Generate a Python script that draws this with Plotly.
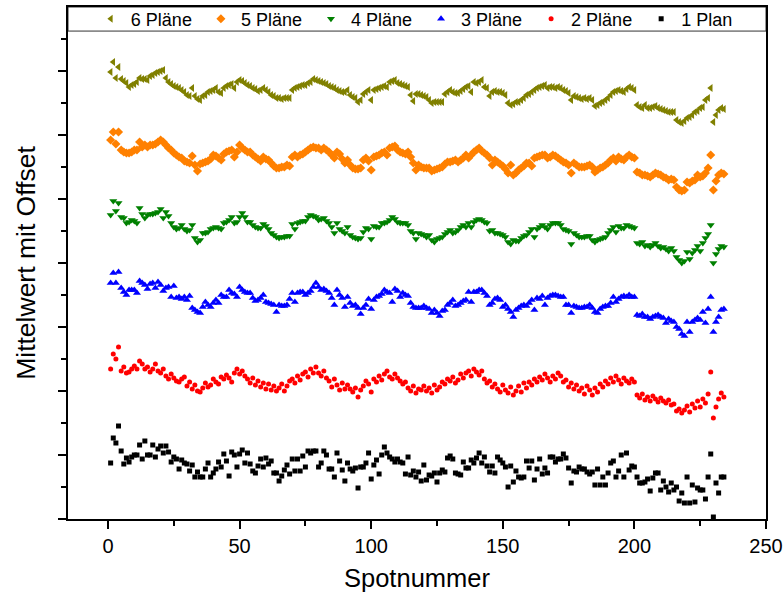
import plotly.graph_objects as go

spot = list(range(1, 235))

plane6 = [
447, 457, 441, 452, 440, 438, 436, 432, 434, 435,
437, 441, 440, 440, 439, 443, 444, 446, 447, 448,
449, 441, 437, 435, 433, 432, 431, 429, 427, 424,
423, 431, 423, 420, 419, 423, 424, 427, 428, 429,
431, 427, 426, 431, 433, 434, 435, 431, 437, 439,
438, 436, 434, 433, 431, 430, 428, 429, 431, 429,
427, 424, 423, 421, 421, 420, 421, 421, 421, 429,
431, 432, 433, 434, 434, 436, 437, 440, 439, 438,
437, 436, 435, 433, 432, 431, 429, 428, 427, 427,
429, 424, 422, 421, 417, 419, 425, 427, 429, 419,
429, 430, 431, 432, 433, 432, 437, 438, 439, 436,
435, 434, 433, 432, 424, 418, 425, 425, 424, 423,
422, 419, 416, 417, 417, 417, 417, 425, 427, 429,
427, 426, 426, 428, 430, 432, 433, 427, 437, 436,
437, 439, 432, 431, 423, 427, 428, 427, 427, 426,
424, 416, 414, 415, 417, 417, 419, 421, 424, 425,
427, 429, 431, 432, 433, 434, 431, 432, 432, 431,
432, 431, 429, 428, 426, 419, 423, 422, 421, 420,
421, 420, 421, 419, 413, 414, 416, 417, 419, 421,
424, 427, 428, 429, 428, 427, 430, 432, 431, 429,
414, 412, 411, 414, 411, 411, 412, 413, 411, 410,
409, 408, 407, 407, 407, 399, 397, 396, 398, 401,
402, 404, 407, 408, 411, 412, 419, 421, 431, 397,
404, 409, 411, 410]

plane5 = [
379, 387, 375, 387, 369, 367, 366, 366, 367, 369,
369, 377, 372, 374, 372, 374, 374, 375, 377, 379,
377, 374, 371, 369, 366, 364, 362, 361, 358, 357,
356, 363, 354, 348, 355, 356, 357, 358, 360, 364,
363, 361, 359, 365, 367, 368, 369, 362, 367, 374,
371, 369, 367, 367, 364, 362, 360, 358, 362, 360,
359, 356, 353, 351, 351, 352, 352, 354, 353, 362,
364, 362, 364, 365, 367, 369, 371, 372, 371, 371,
369, 371, 369, 367, 364, 361, 367, 365, 360, 356,
359, 354, 351, 350, 350, 351, 359, 361, 358, 349,
362, 363, 364, 366, 367, 364, 371, 372, 373, 369,
367, 366, 365, 367, 362, 356, 349, 354, 352, 351,
351, 351, 348, 349, 350, 351, 352, 355, 357, 357,
358, 359, 357, 359, 361, 364, 361, 364, 367, 369,
371, 368, 366, 364, 361, 354, 359, 357, 355, 353,
350, 346, 354, 344, 346, 349, 351, 353, 356, 356,
353, 361, 362, 363, 364, 364, 361, 362, 364, 363,
361, 359, 357, 356, 354, 346, 356, 354, 352, 352,
352, 353, 354, 352, 347, 349, 351, 352, 354, 356,
359, 361, 358, 362, 360, 359, 362, 364, 362, 361,
347, 346, 344, 344, 343, 342, 344, 346, 345, 344,
342, 341, 339, 340, 339, 332, 329, 328, 329, 337,
336, 338, 339, 344, 342, 343, 346, 351, 364, 329,
338, 344, 346, 345]

plane4 = [
304, 318, 308, 316, 302, 301, 296, 297, 299, 298,
296, 311, 305, 301, 304, 305, 305, 306, 307, 310,
301, 307, 303, 296, 292, 290, 291, 294, 290, 288,
289, 294, 281, 277, 279, 286, 286, 287, 290, 291,
292, 291, 290, 296, 297, 299, 302, 296, 297, 302,
306, 302, 297, 297, 294, 292, 291, 291, 295, 293,
290, 286, 284, 282, 281, 282, 282, 283, 283, 295,
290, 296, 297, 298, 298, 302, 304, 303, 302, 299,
300, 301, 298, 296, 292, 286, 296, 290, 288, 286,
292, 284, 282, 281, 280, 281, 287, 291, 290, 280,
293, 292, 292, 296, 296, 297, 299, 302, 300, 297,
296, 296, 296, 294, 288, 286, 280, 286, 285, 284,
282, 284, 279, 277, 280, 281, 282, 285, 287, 289,
286, 287, 289, 292, 294, 292, 296, 292, 297, 299,
300, 299, 297, 296, 288, 289, 286, 286, 285, 284,
282, 277, 275, 279, 278, 278, 281, 283, 284, 287,
290, 282, 290, 292, 294, 292, 290, 294, 296, 296,
296, 294, 290, 289, 288, 275, 286, 284, 282, 282,
282, 283, 283, 279, 277, 279, 280, 281, 282, 286,
289, 292, 287, 293, 291, 291, 294, 293, 292, 291,
276, 275, 277, 273, 274, 272, 274, 276, 273, 271,
272, 270, 268, 271, 268, 262, 259, 256, 258, 267,
260, 266, 269, 273, 268, 276, 281, 285, 294, 256,
265, 270, 273, 272]

plane3 = [
236, 246, 236, 247, 231, 227, 224, 229, 229, 229,
226, 238, 236, 234, 230, 235, 236, 231, 237, 234,
228, 231, 232, 222, 233, 221, 222, 220, 222, 219,
223, 211, 209, 207, 206, 212, 217, 214, 212, 216,
219, 216, 224, 222, 222, 229, 226, 225, 222, 232,
229, 227, 226, 226, 221, 218, 219, 221, 224, 217,
216, 215, 214, 207, 214, 213, 213, 214, 220, 226,
217, 226, 227, 227, 224, 226, 228, 232, 236, 232,
229, 230, 228, 226, 221, 214, 229, 224, 221, 212,
222, 216, 213, 214, 211, 205, 211, 214, 220, 210,
219, 222, 223, 225, 229, 227, 226, 217, 230, 228,
222, 226, 224, 223, 216, 212, 211, 211, 211, 213,
211, 210, 206, 209, 206, 203, 208, 209, 214, 216,
219, 213, 214, 216, 218, 219, 227, 217, 227, 227,
229, 229, 226, 223, 214, 216, 220, 221, 219, 212,
214, 210, 207, 202, 209, 211, 213, 214, 213, 216,
219, 209, 221, 220, 223, 214, 221, 223, 224, 224,
223, 222, 222, 214, 214, 206, 213, 212, 211, 211,
212, 212, 214, 211, 207, 206, 210, 212, 213, 213,
216, 222, 217, 220, 222, 223, 222, 224, 222, 222,
204, 203, 205, 202, 202, 200, 202, 203, 204, 202,
201, 196, 200, 198, 197, 192, 190, 185, 183, 197,
187, 197, 199, 201, 199, 207, 196, 210, 222, 187,
197, 202, 209, 210]

plane2 = [
150, 165, 160, 172, 148, 152, 146, 147, 150, 153,
150, 158, 155, 150, 152, 147, 150, 155, 148, 146,
150, 143, 140, 145, 141, 138, 137, 140, 142, 133,
137, 130, 134, 128, 127, 131, 136, 132, 134, 140,
137, 135, 142, 140, 144, 141, 137, 146, 150, 145,
148, 143, 140, 136, 141, 134, 138, 132, 136, 130,
135, 129, 133, 128, 131, 135, 128, 133, 138, 140,
136, 143, 139, 145, 147, 142, 150, 146, 152, 146,
143, 148, 141, 138, 132, 140, 134, 129, 136, 130,
134, 130, 127, 131, 122, 129, 133, 138, 135, 127,
140, 137, 143, 139, 145, 148, 142, 140, 145, 141,
138, 135, 137, 131, 128, 133, 126, 130, 129, 133,
128, 131, 126, 134, 129, 132, 137, 135, 140, 138,
142, 136, 139, 145, 141, 146, 148, 143, 150, 147,
144, 148, 140, 136, 138, 132, 135, 130, 127, 134,
129, 126, 132, 124, 128, 133, 127, 136, 131, 137,
134, 140, 137, 142, 139, 145, 141, 137, 143, 140,
146, 143, 137, 139, 132, 136, 130, 134, 128, 131,
125, 133, 129, 124, 131, 127, 135, 132, 138, 135,
141, 137, 143, 139, 135, 141, 138, 136, 140, 137,
124, 121, 125, 119, 122, 118, 123, 120, 117, 121,
118, 116, 119, 114, 115, 108, 110, 106, 109, 113,
107, 115, 111, 118, 112, 120, 116, 125, 147, 101,
112, 120, 126, 122]

plane1 = [
56, 81, 76, 93, 68, 55, 61, 57, 62, 64,
64, 74, 60, 78, 64, 64, 74, 62, 70, 73,
66, 73, 67, 57, 62, 60, 50, 59, 56, 55,
48, 54, 42, 47, 42, 42, 50, 56, 42, 46,
50, 57, 52, 65, 58, 43, 67, 64, 52, 65,
69, 56, 66, 55, 48, 46, 53, 60, 52, 61,
55, 58, 46, 46, 38, 43, 49, 54, 45, 60,
48, 60, 48, 63, 52, 68, 66, 68, 68, 52,
56, 68, 64, 50, 50, 42, 66, 58, 49, 38,
56, 50, 48, 51, 31, 52, 52, 56, 66, 40,
54, 59, 45, 64, 72, 66, 62, 60, 57, 60,
57, 56, 45, 62, 44, 48, 42, 47, 38, 54,
39, 44, 43, 46, 37, 46, 49, 47, 61, 63,
60, 46, 45, 44, 57, 51, 51, 59, 56, 61,
66, 56, 62, 53, 47, 53, 46, 62, 59, 56,
52, 32, 53, 37, 48, 42, 41, 42, 58, 51,
58, 39, 50, 60, 45, 51, 46, 62, 62, 57,
60, 60, 65, 61, 51, 36, 48, 47, 52, 50,
50, 47, 45, 47, 34, 50, 34, 42, 34, 46,
56, 58, 42, 48, 64, 42, 66, 49, 53, 52,
42, 36, 36, 37, 40, 28, 41, 46, 46, 29,
38, 32, 27, 36, 29, 32, 18, 26, 16, 42,
16, 34, 17, 31, 29, 29, 20, 42, 65, 2,
36, 26, 42, 42]

names = ["6 Pläne", "5 Pläne", "4 Pläne", "3 Pläne", "2 Pläne", "1 Plan"]
series = [plane6, plane5, plane4, plane3, plane2, plane1]
colors = ["#808000", "#FF8000", "#008000", "#0000FF", "#FF0000", "#000000"]
symbols = ["triangle-left", "diamond", "triangle-down", "triangle-up", "circle", "square"]
sizes = [7, 7, 7, 7, 5, 5]

fig = go.Figure()
for name, vals, col, sym, sz in zip(names, series, colors, symbols, sizes):
    fig.add_trace(go.Scatter(
        x=spot[:len(vals)], y=vals, mode="markers", name=name,
        marker=dict(color=col, symbol=sym, size=sz, line=dict(width=0)),
    ))

font_family = "Liberation Sans, Arial, sans-serif"
# legend frame strip across the top of the plot area (paper fractions)
legend_frame_bottom = 0.953
fig.add_shape(type="rect", xref="paper", yref="paper",
              x0=0, x1=1, y0=legend_frame_bottom, y1=1,
              line=dict(color="#333333", width=1), fillcolor="white", layer="below")

fig.update_layout(
    width=784, height=601,
    margin=dict(l=68, r=18, t=7, b=82, autoexpand=False),
    paper_bgcolor="white", plot_bgcolor="white",
    font=dict(family=font_family, color="black"),
    showlegend=True,
    legend=dict(
        orientation="h", x=0.027, y=(1 + legend_frame_bottom) / 2,
        xanchor="left", yanchor="middle",
        bgcolor="rgba(0,0,0,0)", borderwidth=0,
        font=dict(size=18, family=font_family),
        itemwidth=30, indentation=4,
        itemclick=False,
    ),
)
fig.update_xaxes(
    range=[-15.2, 250], tickvals=[0, 50, 100, 150, 200, 250],
    ticks="outside", ticklen=8, tickwidth=1.5, tickcolor="black",
    minor=dict(tickvals=[25, 75, 125, 175, 225], ticks="outside", ticklen=5, tickwidth=1.5, tickcolor="black"),
    showline=True, linecolor="black", linewidth=1.5, mirror=True,
    showgrid=False, zeroline=False,
    tickfont=dict(size=20, family=font_family),
    title=dict(text="Spotnummer", font=dict(size=25.5, family=font_family), standoff=13),
)
fig.update_yaxes(
    range=[0, 512], tickvals=[0, 64, 128, 192, 256, 320, 384, 448],
    showticklabels=False,
    ticks="outside", ticklen=8, tickwidth=1.5, tickcolor="black",
    minor=dict(tickvals=[32, 96, 160, 224, 288, 352, 416, 480], ticks="outside", ticklen=5, tickwidth=1.5, tickcolor="black"),
    showline=True, linecolor="black", linewidth=1.5, mirror=True,
    showgrid=False, zeroline=False,
    title=dict(text="Mittelwert mit Offset", font=dict(size=26.5, family=font_family), standoff=15),
)

fig.write_html("out.html")
